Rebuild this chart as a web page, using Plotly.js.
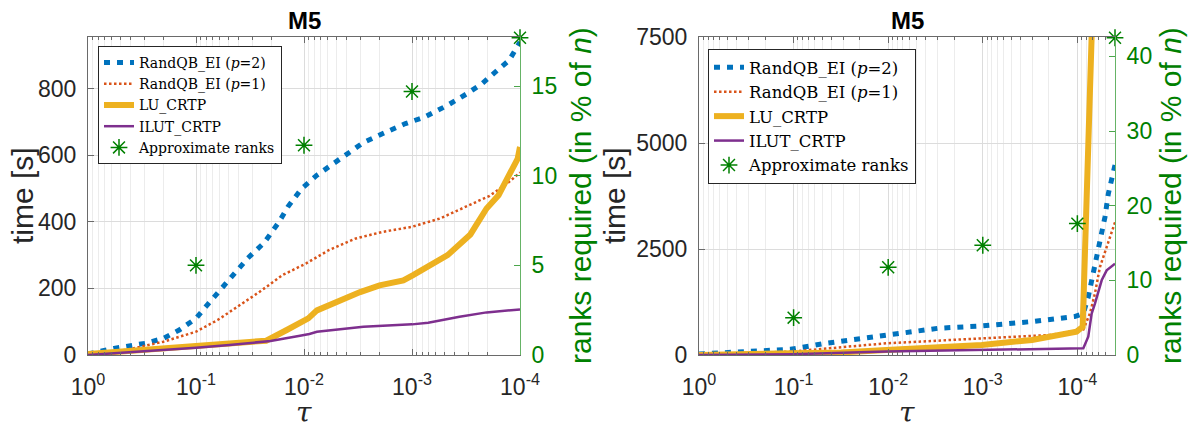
<!DOCTYPE html>
<html><head><meta charset="utf-8">
<script src="https://cdn.plot.ly/plotly-3.0.1.min.js"></script>
<style>html,body{margin:0;padding:0;background:#fff}#chart{width:1188px;height:436px}</style>
</head><body><div id="chart"></div>
<script>
// ---------- data ----------
const seriesNames = ['RandQB_EI (<i>p</i>=2)', 'RandQB_EI (<i>p</i>=1)', 'LU_CRTP', 'ILUT_CRTP', 'Approximate ranks'];

// left panel
const tauBlueL = [1, 0.575, 0.295, 0.2, 0.143, 0.1, 0.0741, 0.0537, 0.0417, 0.0331, 0.0234, 0.017, 0.0141, 0.0105, 0.00759, 0.00537, 0.00389, 0.00282, 0.00186, 0.00115, 0.000759, 0.000468, 0.000309, 0.000224, 0.000162, 0.000126, 0.0001];
const timeBlueL = [3, 20, 35, 50, 75, 110, 160, 211, 256, 291, 337, 400, 445, 500, 540, 573, 605, 638, 665, 695, 715, 750, 785, 815, 855, 885, 940];
const tauRedL = [1, 0.447, 0.2, 0.1, 0.0631, 0.0417, 0.0257, 0.0158, 0.00955, 0.00589, 0.00331, 0.00186, 0.001, 0.00055, 0.000316, 0.000191, 0.000126, 0.0001];
const timeRedL = [2, 15, 40, 70, 105, 145, 190, 240, 275, 315, 350, 370, 385, 410, 445, 478, 520, 548];
const tauYelL = [1, 0.2512, 0.1, 0.04898, 0.02239, 0.01445, 0.00912, 0.00759, 0.00501, 0.00302, 0.001995, 0.001202, 0.000977, 0.000708, 0.000468, 0.000288, 0.000204, 0.000158, 0.000115, 0.000105, 0.0001];
const timeYelL = [3, 18, 27, 34, 43, 75, 110, 134, 159, 189, 209, 224, 240, 265, 300, 362, 440, 480, 560, 590, 625];
const tauPurL = [1, 0.2512, 0.1, 0.04898, 0.02042, 0.01122, 0.00891, 0.00759, 0.00282, 0.001, 0.000708, 0.000363, 0.000204, 0.0001];
const timePurL = [0, 12, 22, 30, 42, 57, 63, 70, 85, 92, 97, 115, 128, 137];
const tauRankL = [0.1, 0.01, 0.001, 0.0001];
const rankL = [5.0, 11.7, 14.7, 17.7];

// right panel
const tauBlueR = [1, 0.1072, 0.0457, 0.01047, 0.00295, 0.001023, 0.000302, 0.000107, 0.0000865, 0.0000767, 0.0000652, 0.0000577, 0.0000511, 0.0000471, 0.0000417, 0.00004];
const timeBlueR = [25, 134, 276, 473, 631, 686, 789, 907, 979, 1370, 2075, 2700, 3250, 3800, 4425, 4480];
const tauRedR = [1, 0.1072, 0.01047, 0.001023, 0.000195, 0.0000865, 0.0000736, 0.0000652, 0.0000577, 0.000049, 0.00004];
const timeRedR = [16, 79, 276, 394, 473, 600, 980, 1450, 2075, 2545, 3130];
const tauYelR = [1, 0.1072, 0.0316, 0.01047, 0.00295, 0.001023, 0.000302, 0.000195, 0.000102, 0.0000879, 0.0000706, 0.0000692];
const timeYelR = [0, 16, 60, 118, 197, 237, 355, 434, 552, 665, 7500, 8150];
const tauPurR = [1, 0.1, 0.01047, 0.001023, 0.000102, 0.0000865, 0.0000767, 0.0000706, 0.0000652, 0.0000553, 0.000049, 0.00004];
const timePurR = [0, 20, 80, 120, 155, 160, 430, 979, 1214, 1762, 1997, 2153];
const tauRankR = [0.1, 0.01, 0.001, 0.0001, 0.00004];
const rankR = [5.0, 11.75, 14.7, 17.6, 42.5];

// ticks
const xTickVals = [1, 0.1, 0.01, 0.001, 0.0001];
const xTickText = ['10<sup>0</sup>', '10<sup>-1</sup>', '10<sup>-2</sup>', '10<sup>-3</sup>', '10<sup>-4</sup>'];
const yTicksL = [0, 200, 400, 600, 800];
const y2TicksL = [0, 5, 10, 15];
const yTicksR = [0, 2500, 5000, 7500];
const y2TicksR = [0, 10, 20, 30, 40];

// ---------- styling ----------
const W = 1188, H = 436;
const BLUE = '#0072BD', RED = '#D95319', YEL = '#EDB120', PUR = '#7E2F8E', GREEN = '#008000';
const AX = '#262626', FRAME = '#6a6a6a';
const SANS = 'Liberation Sans, Arial, Helvetica, sans-serif';
const SERIF = 'DejaVu Serif, Liberation Serif, serif';
const TICKF = 23, LABF = 30;

const styles = [
  {color: BLUE, width: 5, dash: '6px,7px'},
  {color: RED, width: 2.5, dash: '2.5px,2.5px'},
  {color: YEL, width: 6, dash: 'solid'},
  {color: PUR, width: 2.5, dash: 'solid'}
];
const star = {symbol: 'asterisk-open', size: 14, color: GREEN, line: {color: GREEN, width: 1.5}};

function lineTrace(x, y, i, xa, ya, lg) {
  return {x: x, y: y, type: 'scatter', mode: 'lines', name: seriesNames[i], line: styles[i],
          xaxis: xa, yaxis: ya, legend: lg, hoverinfo: 'skip'};
}
function rankTrace(x, y, xa, ya, lg) {
  return {x: x, y: y, type: 'scatter', mode: 'markers', name: seriesNames[4], marker: star,
          cliponaxis: false, xaxis: xa, yaxis: ya, legend: lg, hoverinfo: 'skip'};
}

const data = [
  lineTrace(tauBlueL, timeBlueL, 0, 'x', 'y', 'legend'),
  lineTrace(tauRedL, timeRedL, 1, 'x', 'y', 'legend'),
  lineTrace(tauYelL, timeYelL, 2, 'x', 'y', 'legend'),
  lineTrace(tauPurL, timePurL, 3, 'x', 'y', 'legend'),
  rankTrace(tauRankL, rankL, 'x', 'y2', 'legend'),
  lineTrace(tauBlueR, timeBlueR, 0, 'x2', 'y3', 'legend2'),
  lineTrace(tauRedR, timeRedR, 1, 'x2', 'y3', 'legend2'),
  lineTrace(tauYelR, timeYelR, 2, 'x2', 'y3', 'legend2'),
  lineTrace(tauPurR, timePurR, 3, 'x2', 'y3', 'legend2'),
  rankTrace(tauRankR, rankR, 'x2', 'y4', 'legend2')
];

function minorVals(lastDecade, lowest) {
  const v = [];
  for (let k = 0; k < lastDecade; k++) {
    for (let m = 2; m <= 9; m++) {
      const val = m * Math.pow(10, -(k + 1));
      if (val >= lowest * 0.999) v.push(val);
    }
  }
  return v;
}

const yDom = [1 - 355 / H, 1 - 37 / H];
function xAxis(dom, anchor, rangeEnd, minor) {
  return {
    domain: dom, anchor: anchor, type: 'log', autorange: false, range: [0, rangeEnd],
    tickmode: 'array', tickvals: xTickVals, ticktext: xTickText,
    ticks: 'inside', ticklen: 6, tickcolor: FRAME, tickwidth: 1,
    showline: true, linecolor: FRAME, linewidth: 1, mirror: 'ticks',
    showgrid: true, gridcolor: '#dcdcdc', gridwidth: 1,
    tickfont: {family: SANS, size: TICKF, color: AX}, ticklabelstandoff: 11,
    minor: {tickmode: 'array', tickvals: minor, ticks: 'inside', ticklen: 3, tickcolor: FRAME,
            showgrid: true, gridcolor: '#ececec', gridwidth: 1},
    zeroline: false, fixedrange: true
  };
}
function yLeft(anchor, range, ticks) {
  return {
    domain: yDom, anchor: anchor, range: range, autorange: false,
    tickmode: 'array', tickvals: ticks,
    ticks: 'inside', ticklen: 6, tickcolor: FRAME, showline: true, linecolor: FRAME, linewidth: 1,
    showgrid: true, gridcolor: '#dcdcdc', zeroline: false,
    tickfont: {family: SANS, size: TICKF, color: AX}, ticklabelstandoff: 6, fixedrange: true
  };
}
function yRight(overlay, anchor, range, ticks) {
  return {
    overlaying: overlay, side: 'right', anchor: anchor, range: range, autorange: false,
    tickmode: 'array', tickvals: ticks,
    ticks: 'inside', ticklen: 6, tickcolor: '#4ca64c', showline: true, linecolor: '#66b366', linewidth: 1,
    showgrid: false, zeroline: false,
    tickfont: {family: SANS, size: TICKF, color: GREEN}, ticklabelstandoff: 6, fixedrange: true
  };
}

function ann(text, xpx, ypx, opts) {
  return Object.assign({text: text, x: xpx / W, y: 1 - ypx / H, xref: 'paper', yref: 'paper',
    xanchor: 'center', yanchor: 'middle', showarrow: false}, opts);
}

const legendBase = {
  xref: 'paper', yref: 'paper', xanchor: 'left', yanchor: 'top',
  bgcolor: '#ffffff', bordercolor: '#262626', borderwidth: 1,
  traceorder: 'normal', itemwidth: 30, tracegroupgap: 0
};

const layout = {
  width: W, height: H, margin: {l: 0, r: 0, t: 0, b: 0},
  paper_bgcolor: '#ffffff', plot_bgcolor: '#ffffff',
  showlegend: true,
  xaxis: xAxis([88 / W, 520 / W], 'y', -4, minorVals(4, 0.0001)),
  yaxis: yLeft('x', [0, 955], yTicksL),
  yaxis2: yRight('y', 'x', [0, 17.74], y2TicksL),
  xaxis2: xAxis([699 / W, 1115 / W], 'y3', Math.log10(0.00004), minorVals(5, 0.00004)),
  yaxis3: yLeft('x2', [0, 7500], yTicksR),
  yaxis4: yRight('y3', 'x2', [0, 42.6], y2TicksR),
  legend: Object.assign({}, legendBase, {x: 98 / W, y: 1 - 46 / H,
    font: {family: SERIF, size: 14, color: '#000'}}),
  legend2: Object.assign({}, legendBase, {x: 708 / W, y: 1 - 49 / H,
    font: {family: SERIF, size: 16.5, color: '#000'}}),
  annotations: [
    ann('<b>M5</b>', 304, 21, {font: {family: SANS, size: 24, color: '#000'}}),
    ann('<b>M5</b>', 907, 21, {font: {family: SANS, size: 24, color: '#000'}}),
    ann('time [s]', 22, 196, {textangle: -90, font: {family: SANS, size: LABF, color: AX}}),
    ann('time [s]', 614, 196, {textangle: -90, font: {family: SANS, size: LABF, color: AX}}),
    ann('ranks required (in % of <i>n</i>)', 580, 196, {textangle: -90, font: {family: SANS, size: LABF, color: GREEN}}),
    ann('ranks required (in % of <i>n</i>)', 1170, 196, {textangle: -90, font: {family: SANS, size: LABF, color: GREEN}}),
    ann('<i>τ</i>', 304, 412, {font: {family: SERIF, size: 28, color: AX}}),
    ann('<i>τ</i>', 907, 412, {font: {family: SERIF, size: 28, color: AX}})
  ]
};

Plotly.newPlot('chart', data, layout, {staticPlot: true, displayModeBar: false});
</script></body></html>
